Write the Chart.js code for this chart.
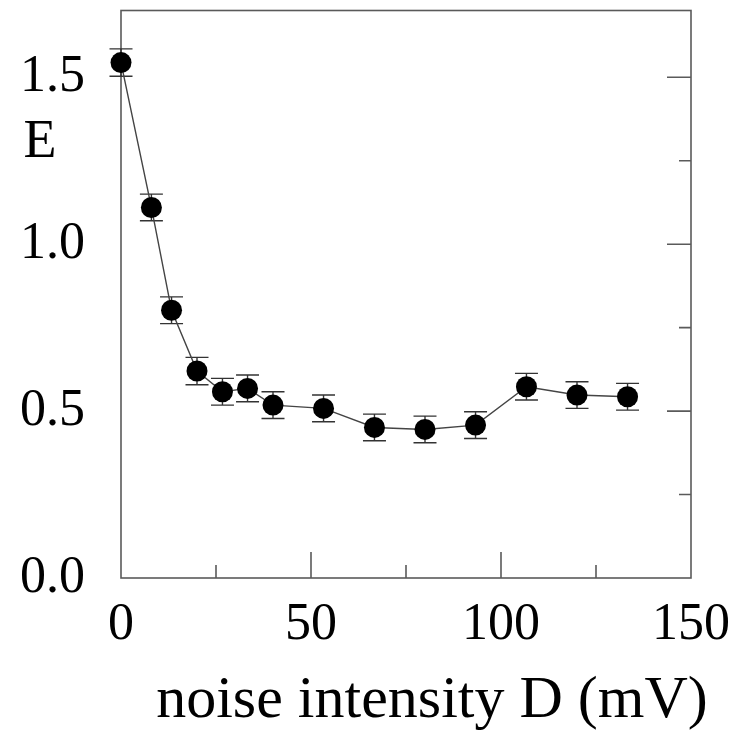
<!DOCTYPE html>
<html>
<head>
<meta charset="utf-8">
<script src="https://cdn.jsdelivr.net/npm/chart.js@4/dist/chart.umd.min.js"></script>
<style>
  html, body { margin: 0; padding: 0; background: #fff; }
  #wrap { width: 741px; height: 731px; }
</style>
</head>
<body>
<div id="wrap"><canvas id="noiseChart" width="741" height="731"></canvas></div>
<script>
// data
const noiseD = [0, 8, 13.3, 20, 26.7, 33.3, 40, 53.3, 66.7, 80, 93.3, 106.7, 120, 133.3];
const energyE = [1.544, 1.110, 0.802, 0.620, 0.558, 0.568, 0.518, 0.508, 0.451, 0.445, 0.458, 0.573, 0.548, 0.543];
const errE = [0.041, 0.040, 0.040, 0.041, 0.040, 0.040, 0.040, 0.040, 0.040, 0.040, 0.040, 0.040, 0.040, 0.040];

const xTicks = [0, 50, 100, 150];
const yTicks = [0, 0.5, 1.0, 1.5];
const xMinor = [25, 75, 125];
const yMinor = [0.25, 0.75, 1.25];

const serif = "'Liberation Serif', 'Times New Roman', serif";

// frame, inner tick marks, error bars and axis labels
const framePlugin = {
    id: 'framePlugin',
    beforeDatasetsDraw(chart) {
        const { ctx, chartArea: a, scales: { x, y } } = chart;
        ctx.save();
        ctx.strokeStyle = '#5a5a5a';
        ctx.lineWidth = 1.6;
        ctx.strokeRect(a.left, a.top, a.right - a.left, a.bottom - a.top);

        ctx.beginPath();
        xTicks.concat(xMinor).forEach(v => {
            if (v <= x.min || v >= x.max) return;
            const px = x.getPixelForValue(v);
            const len = xMinor.includes(v) ? 13 : 26;
            ctx.moveTo(px, a.bottom);
            ctx.lineTo(px, a.bottom - len);
        });
        yTicks.concat(yMinor).forEach(v => {
            if (v <= y.min || v >= y.max) return;
            const py = y.getPixelForValue(v);
            const len = yMinor.includes(v) ? 12 : 24;
            ctx.moveTo(a.right, py);
            ctx.lineTo(a.right - len, py);
        });
        ctx.stroke();

        // error bars
        ctx.strokeStyle = '#333';
        ctx.lineWidth = 1.4;
        ctx.beginPath();
        noiseD.forEach((d, i) => {
            const px = x.getPixelForValue(d);
            const top = y.getPixelForValue(energyE[i] + errE[i]);
            const bot = y.getPixelForValue(energyE[i] - errE[i]);
            ctx.moveTo(px, top); ctx.lineTo(px, bot);
            ctx.moveTo(px - 11.5, top); ctx.lineTo(px + 11.5, top);
            ctx.moveTo(px - 11.5, bot); ctx.lineTo(px + 11.5, bot);
        });
        ctx.stroke();
        ctx.restore();
    },
    afterDraw(chart) {
        const { ctx } = chart;
        ctx.save();
        ctx.fillStyle = '#000';
        ctx.textAlign = 'center';
        ctx.textBaseline = 'middle';
        ctx.font = '54px ' + serif;
        ctx.fillText('E', 40, 143);
        ctx.font = '60px ' + serif;
        ctx.fillText('noise intensity D (mV)', 432, 701);
        ctx.restore();
    }
};

// drop the label overhang so the plot box keeps its place
function noOverhang(s) {
    s.paddingTop = 0; s.paddingBottom = 0;
    s.paddingLeft = 0; s.paddingRight = 0;
}

document.addEventListener('DOMContentLoaded', function() {
    const ctx = document.getElementById('noiseChart');
    new Chart(ctx, {
        type: 'scatter',
        data: {
            datasets: [{
                data: noiseD.map((d, i) => ({ x: d, y: energyE[i] })),
                showLine: true,
                clip: false,
                borderColor: '#444',
                borderWidth: 1.4,
                backgroundColor: '#000',
                pointBackgroundColor: '#000',
                pointBorderColor: '#000',
                pointRadius: 10.5,
                pointBorderWidth: 0,
                tension: 0
            }]
        },
        options: {
            responsive: false,
            animation: false,
            devicePixelRatio: 1,
            layout: { padding: { top: 8, right: 50, left: 0, bottom: 0 } },
            plugins: {
                legend: { display: false },
                tooltip: { enabled: false }
            },
            scales: {
                x: {
                    type: 'linear',
                    min: 0,
                    max: 150,
                    afterFit: s => { s.height = 153; noOverhang(s); },
                    afterBuildTicks: s => { s.ticks = xTicks.map(v => ({ value: v })); },
                    grid: { display: false, drawTicks: false },
                    border: { display: false },
                    ticks: {
                        color: '#000',
                        padding: 16,
                        maxRotation: 0,
                        font: { family: serif, size: 52 },
                        callback: v => String(v)
                    }
                },
                y: {
                    min: 0,
                    max: 1.7,
                    afterFit: s => { s.width = 121; noOverhang(s); },
                    afterBuildTicks: s => { s.ticks = yTicks.map(v => ({ value: v })); },
                    grid: { display: false, drawTicks: false },
                    border: { display: false },
                    ticks: {
                        color: '#000',
                        padding: 36,
                        font: { family: serif, size: 52 },
                        callback: v => v.toFixed(1)
                    }
                }
            }
        },
        plugins: [framePlugin]
    });
});
</script>
</body>
</html>
